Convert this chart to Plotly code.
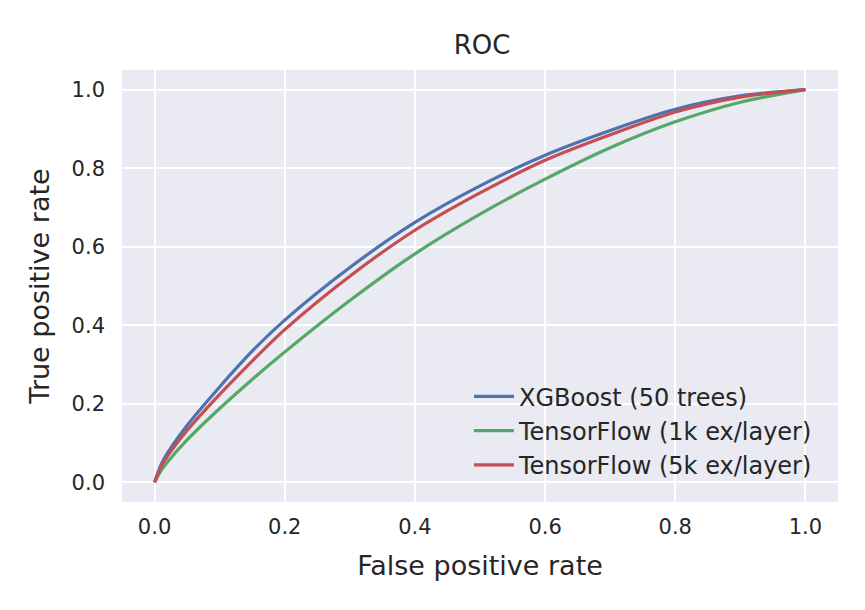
import plotly.graph_objects as go

fpr = [0.0, 0.01, 0.02, 0.05, 0.1, 0.15, 0.2, 0.3, 0.4, 0.5, 0.6, 0.7, 0.8, 0.9, 1.0]
tpr_xgb = [0.0, 0.045, 0.075, 0.145, 0.243, 0.334, 0.413, 0.547, 0.662, 0.755, 0.833, 0.896, 0.950, 0.984, 1.0]
tpr_tf1k = [0.0, 0.030, 0.052, 0.108, 0.188, 0.262, 0.332, 0.463, 0.582, 0.683, 0.772, 0.852, 0.918, 0.968, 1.0]
tpr_tf5k = [0.0, 0.040, 0.067, 0.132, 0.224, 0.309, 0.389, 0.525, 0.642, 0.737, 0.820, 0.885, 0.943, 0.981, 1.0]

series_names = ["XGBoost (50 trees)", "TensorFlow (1k ex/layer)", "TensorFlow (5k ex/layer)"]
series_vals = [tpr_xgb, tpr_tf1k, tpr_tf5k]
colors = ["#4C72B0", "#55A868", "#C44E52"]
tick_vals = [0.0, 0.2, 0.4, 0.6, 0.8, 1.0]

FONT = "DejaVu Sans"
TXT = "#262626"

fig = go.Figure()
for name, vals, c in zip(series_names, series_vals, colors):
    fig.add_trace(go.Scatter(x=fpr, y=vals, mode="lines", name=name,
                             line=dict(color=c, width=3.2, shape="spline", smoothing=0.8)))

axis_common = dict(
    range=[-0.05, 1.05], tickvals=tick_vals, tickformat=".1f",
    showgrid=True, gridcolor="white", gridwidth=2, zeroline=False,
    showline=False, ticks="", automargin=False,
    tickfont=dict(family=FONT, size=21, color=TXT),
)

fig.update_layout(
    width=865, height=610,
    paper_bgcolor="white", plot_bgcolor="#EAEAF2",
    margin=dict(l=114, r=35, t=62, b=116),
    title=dict(text="ROC", x=0.548, xanchor="center", y=0.94, yanchor="middle",
               font=dict(family=FONT, size=26, color=TXT)),
    xaxis=dict(**axis_common, ticklabelstandoff=10,
               title=dict(text="False positive rate", standoff=18,
                          font=dict(family=FONT, size=27, color=TXT))),
    yaxis=dict(**axis_common, ticklabelstandoff=16,
               title=dict(text="True positive rate", standoff=14,
                          font=dict(family=FONT, size=27, color=TXT))),
    legend=dict(x=0.972, xanchor="right", y=0.034, yanchor="bottom",
                bgcolor="rgba(0,0,0,0)", font=dict(family=FONT, size=24, color=TXT),
                itemwidth=40, tracegroupgap=0),
    showlegend=True,
)

fig.write_html("out.html")
